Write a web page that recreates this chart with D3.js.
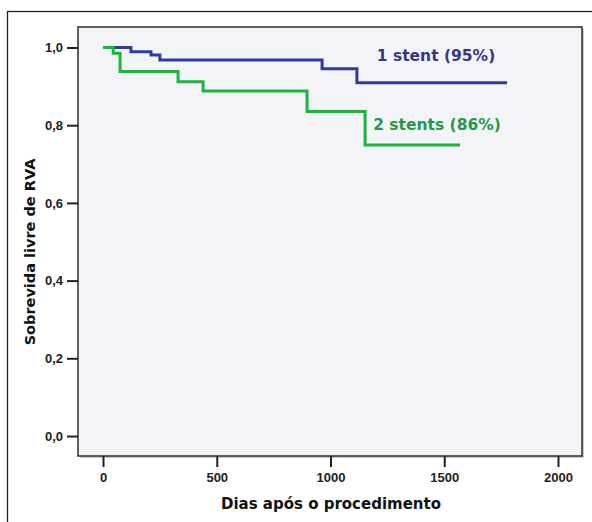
<!DOCTYPE html>
<html>
<head>
<meta charset="utf-8">
<script src="https://cdn.jsdelivr.net/npm/d3@7"></script>
<style>
  body { margin: 0; background: #fff; }
  text { font-family: "DejaVu Sans", Verdana, sans-serif; }
</style>
</head>
<body>
<div id="chart"></div>
<script>
// Kaplan-Meier steps (days, survival)
var stent1Days = [0, 123, 211, 250, 963, 1116, 1776];
var stent1Surv = [1.0, 0.989, 0.981, 0.968, 0.945, 0.909, 0.909];
var stent2Days = [0, 45, 75, 330, 440, 897, 1152, 1569];
var stent2Surv = [1.0, 0.985, 0.938, 0.912, 0.888, 0.835, 0.749, 0.749];

var xTicks = [0, 500, 1000, 1500, 2000];
var yTicks = [0, 0.2, 0.4, 0.6, 0.8, 1.0];
var seriesNames = ["1 stent (95%)", "2 stents (86%)"];

var W = 592, H = 522;
var plot = { left: 78, top: 27, right: 582, bottom: 456 };

var svg = d3.select("#chart").append("svg")
    .attr("width", W)
    .attr("height", H);

// outer frame
svg.append("rect")
    .attr("x", 7.5).attr("y", 11.5)
    .attr("width", W + 10).attr("height", H + 10)
    .attr("fill", "#fff")
    .attr("stroke", "#222")
    .attr("stroke-width", 1.3);

var x = d3.scaleLinear().domain([0, 2000]).range([103, 558]);
var y = d3.scaleLinear().domain([0, 1]).range([436, 47.5]);

// plot area with a little shadow
svg.append("rect")
    .attr("x", plot.left + 2).attr("y", plot.top + 2)
    .attr("width", plot.right - plot.left).attr("height", plot.bottom - plot.top)
    .attr("fill", "#c8c8c8");
svg.append("rect")
    .attr("x", plot.left).attr("y", plot.top)
    .attr("width", plot.right - plot.left).attr("height", plot.bottom - plot.top)
    .attr("fill", "#f3f4f7")
    .attr("stroke", "#3a3a3a")
    .attr("stroke-width", 1.6);

// axes
var xAxis = svg.append("g")
    .attr("transform", "translate(0," + plot.bottom + ")")
    .call(d3.axisBottom(x).tickValues(xTicks).tickSize(11).tickPadding(6).tickFormat(d3.format("d")));
var yAxis = svg.append("g")
    .attr("transform", "translate(" + plot.left + ",0)")
    .call(d3.axisLeft(y).tickValues(yTicks).tickSize(11).tickPadding(4)
        .tickFormat(function(d) { return d.toFixed(1).replace(".", ","); }));

[xAxis, yAxis].forEach(function(a) {
    a.select(".domain").remove();
    a.selectAll(".tick line").attr("stroke", "#222").attr("stroke-width", 2);
    a.selectAll(".tick text")
        .attr("fill", "#222")
        .style("font-size", "13px")
        .style("font-weight", "bold")
        .style("font-family", "'Liberation Sans', Arial, sans-serif");
});

// step lines
var line = d3.line()
    .curve(d3.curveStepAfter)
    .x(function(d) { return x(d[0]); })
    .y(function(d) { return y(d[1]); });

svg.append("path")
    .datum(d3.zip(stent1Days, stent1Surv))
    .attr("fill", "none")
    .attr("stroke", "#2e3d9c")
    .attr("stroke-width", 3)
    .attr("d", line);

svg.append("path")
    .datum(d3.zip(stent2Days, stent2Surv))
    .attr("fill", "none")
    .attr("stroke", "#1db33c")
    .attr("stroke-width", 3)
    .attr("d", line);

// labels
svg.append("text")
    .attr("x", 436).attr("y", 61)
    .attr("text-anchor", "middle")
    .attr("fill", "#3a3782")
    .style("font-size", "15.5px")
    .style("font-weight", "bold")
    .text(seriesNames[0]);

svg.append("text")
    .attr("x", 437).attr("y", 130)
    .attr("text-anchor", "middle")
    .attr("fill", "#1f9a48")
    .style("font-size", "15.5px")
    .style("font-weight", "bold")
    .text(seriesNames[1]);

svg.append("text")
    .attr("x", 331).attr("y", 509)
    .attr("text-anchor", "middle")
    .attr("fill", "#111")
    .style("font-size", "15px")
    .style("font-weight", "bold")
    .text("Dias após o procedimento");

svg.append("text")
    .attr("transform", "translate(35,252) rotate(-90)")
    .attr("text-anchor", "middle")
    .attr("fill", "#111")
    .style("font-size", "14.5px")
    .style("font-weight", "bold")
    .text("Sobrevida livre de RVA");
</script>
</body>
</html>
